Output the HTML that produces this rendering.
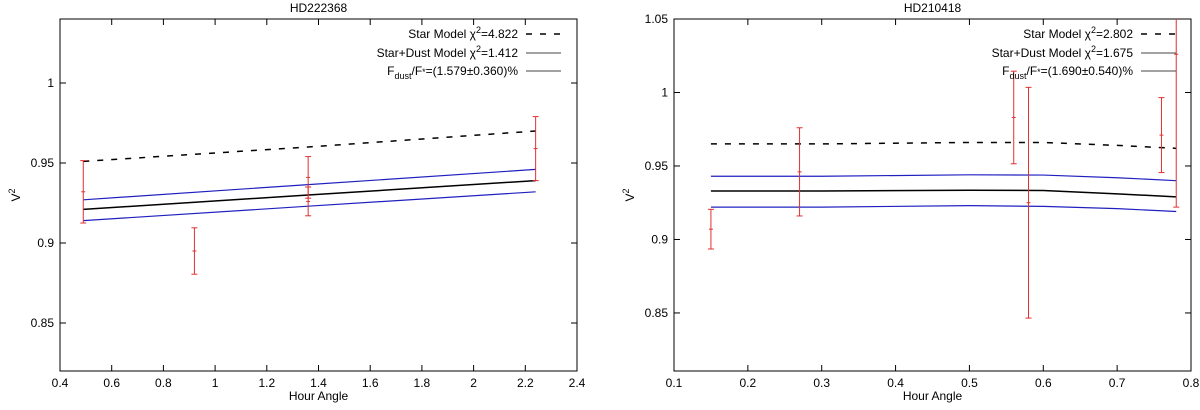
<!DOCTYPE html>
<html><head><meta charset="utf-8"><style>
body{margin:0;background:#fff;}
svg text{font-family:"Liberation Sans",sans-serif;fill:#000;}
</style></head><body>
<svg id="chart" width="1200" height="405" xmlns="http://www.w3.org/2000/svg"></svg>
<script>
// ---- Left panel data (HD222368)
const leftX = [0.49, 0.92, 1.36, 1.36, 2.24];
const leftY = [0.932, 0.895, 0.941, 0.926, 0.959];
const leftErr = [0.0195, 0.0145, 0.013, 0.009, 0.020];
const leftModelX = [0.49, 1.36, 2.24];
const leftStar = [0.951, 0.960, 0.970];
const leftDust = [0.921, 0.930, 0.939];
const leftUpper = [0.927, 0.9365, 0.946];
const leftLower = [0.914, 0.923, 0.932];
const leftXTicks = [0.4,0.6,0.8,1,1.2,1.4,1.6,1.8,2,2.2,2.4];
const leftYTicks = [0.85,0.9,0.95,1];
const leftLegend = ["Star Model χ²=4.822","Star+Dust Model χ²=1.412","F_dust/F*=(1.579±0.360)%"];
// ---- Right panel data (HD210418)
const rightX = [0.15, 0.27, 0.56, 0.58, 0.76, 0.78];
const rightY = [0.907, 0.946, 0.983, 0.925, 0.971, 1.026];
const rightErr = [0.0135, 0.030, 0.0315, 0.0785, 0.0255, 0.104];
const rightModelX = [0.15, 0.3, 0.5, 0.6, 0.7, 0.78];
const rightStar = [0.965, 0.965, 0.966, 0.966, 0.964, 0.962];
const rightDust = [0.933, 0.933, 0.9335, 0.9333, 0.931, 0.929];
const rightUpper = [0.943, 0.943, 0.944, 0.9438, 0.942, 0.940];
const rightLower = [0.922, 0.922, 0.923, 0.9225, 0.921, 0.919];
const rightXTicks = [0.1,0.2,0.3,0.4,0.5,0.6,0.7,0.8];
const rightYTicks = [0.85,0.9,0.95,1,1.05];
const rightLegend = ["Star Model χ²=2.802","Star+Dust Model χ²=1.675","F_dust/F*=(1.690±0.540)%"];

const NS="http://www.w3.org/2000/svg";
const svg=document.getElementById('chart');
function mk(tag,attrs,parent){const e=document.createElementNS(NS,tag);for(const k in attrs)e.setAttribute(k,attrs[k]);(parent||svg).appendChild(e);return e;}

function panel(o){
  const g=mk('g',{});
  
  
  const sx=v=>o.L+(v-o.x0)/(o.x1-o.x0)*(o.R-o.L);
  const sy=v=>o.B-(v-o.y0)/(o.y1-o.y0)*(o.B-o.T);
  const cp='clip-'+o.name;
  const cpe=mk('clipPath',{id:cp},g); mk('rect',{x:o.L,y:o.T,width:o.R-o.L,height:o.B-o.T},cpe);
  // ticks
  o.xt.forEach(v=>{const x=sx(v);
    const t=mk('line',{x1:x,x2:x,y1:o.B,y2:o.B-6,stroke:'#000','stroke-width':1},g);
     
    mk('line',{x1:x,x2:x,y1:o.T,y2:o.T+6,stroke:'#000','stroke-width':1},g);
    const l=mk('text',{x:x,y:o.B+16,'font-size':12,'text-anchor':'middle'},g); l.textContent=String(v);
     });
  o.yt.forEach(v=>{const y=sy(v);
    const t=mk('line',{x1:o.L,x2:o.L+6,y1:y,y2:y,stroke:'#000','stroke-width':1},g);
     
    mk('line',{x1:o.R,x2:o.R-6,y1:y,y2:y,stroke:'#000','stroke-width':1},g);
    const l=mk('text',{x:o.L-6,y:y+4,'font-size':12,'text-anchor':'end'},g); l.textContent=String(v);
     });
  const fr=mk('rect',{x:o.L,y:o.T,width:o.R-o.L,height:o.B-o.T,fill:'none',stroke:'#000','stroke-width':1},g);
   
  const ti=mk('text',{x:(o.L+o.R)/2,y:12,'font-size':12,'text-anchor':'middle'},g); ti.textContent=o.title;
   
  const xl=mk('text',{x:(o.L+o.R)/2,y:400,'font-size':12,'text-anchor':'middle'},g); xl.textContent='Hour Angle';
   
  const yx=o.L-40, yy=(o.T+o.B)/2;
  const yl=mk('text',{x:yx,y:yy,'font-size':12,'text-anchor':'middle',transform:`rotate(-90 ${yx} ${yy})`},g);
  yl.innerHTML='V<tspan dy="-5" font-size="9">2</tspan>';
   
  const cg=mk('g',{'clip-path':`url(#${cp})`},g);
  function line(arr,color,dash,w,name){
    const p=mk('polyline',{points:o.mx.map((x,i)=>sx(x)+','+sy(arr[i])).join(' '),fill:'none',stroke:color,'stroke-width':w,'stroke-dasharray':dash||'none'},cg);
     
  }
  line(o.up,'#2020c0',null,1.2,'upper-bound-line');
  line(o.lo,'#2020c0',null,1.2,'lower-bound-line');
  line(o.dust,'#000',null,1.5,'star-dust-model-line');
  line(o.star,'#000','6,8',1.5,'star-model-line');
  o.px.forEach((x,i)=>{
    const X=sx(x),y=sy(o.py[i]),a=sy(o.py[i]+o.pe[i]),b=sy(o.py[i]-o.pe[i]);
    const e=mk('g',{stroke:'#e03030','stroke-width':1},cg);
     
    mk('line',{x1:X,x2:X,y1:a,y2:b},e);
    mk('line',{x1:X-3,x2:X+3,y1:a,y2:a},e);
    mk('line',{x1:X-3,x2:X+3,y1:b,y2:b},e);
    mk('line',{x1:X-2,x2:X+2,y1:y,y2:y},e);
  });
  // legend
  const rows=[34,53,71];
  o.legend.forEach((t,i)=>{
    const le=mk('g',{},g);
     
    const tx=mk('text',{x:o.lt,y:rows[i]+4,'font-size':12,'text-anchor':'end'},le);
    if(i<2){const p=t.split('χ²');tx.innerHTML=p[0]+'χ<tspan dy="-5" font-size="9">2</tspan><tspan dy="5">'+p[1]+'</tspan>';}
    else{tx.innerHTML='F<tspan dy="4" font-size="9">dust</tspan><tspan dy="-4">/F</tspan><tspan font-size="9">*</tspan>'+t.slice(t.indexOf('='));}
    mk('line',{x1:o.lt+8,x2:o.lt+43,y1:rows[i],y2:rows[i],stroke:i==0?'#000':'#444','stroke-width':i==0?1.5:1,'stroke-dasharray':i==0?'6,8':'none'},le);
  });
}
panel({name:'panel-hd222368',title:'HD222368',L:60,R:577,T:19,B:371,x0:0.4,x1:2.4,y0:0.82,y1:1.04,
  xt:leftXTicks,yt:leftYTicks,px:leftX,py:leftY,pe:leftErr,mx:leftModelX,star:leftStar,dust:leftDust,up:leftUpper,lo:leftLower,legend:leftLegend,lt:518});
panel({name:'panel-hd210418',title:'HD210418',L:674,R:1191,T:19,B:371,x0:0.1,x1:0.8,y0:0.8105,y1:1.05,
  xt:rightXTicks,yt:rightYTicks,px:rightX,py:rightY,pe:rightErr,mx:rightModelX,star:rightStar,dust:rightDust,up:rightUpper,lo:rightLower,legend:rightLegend,lt:1133});
</script>
</body></html>
